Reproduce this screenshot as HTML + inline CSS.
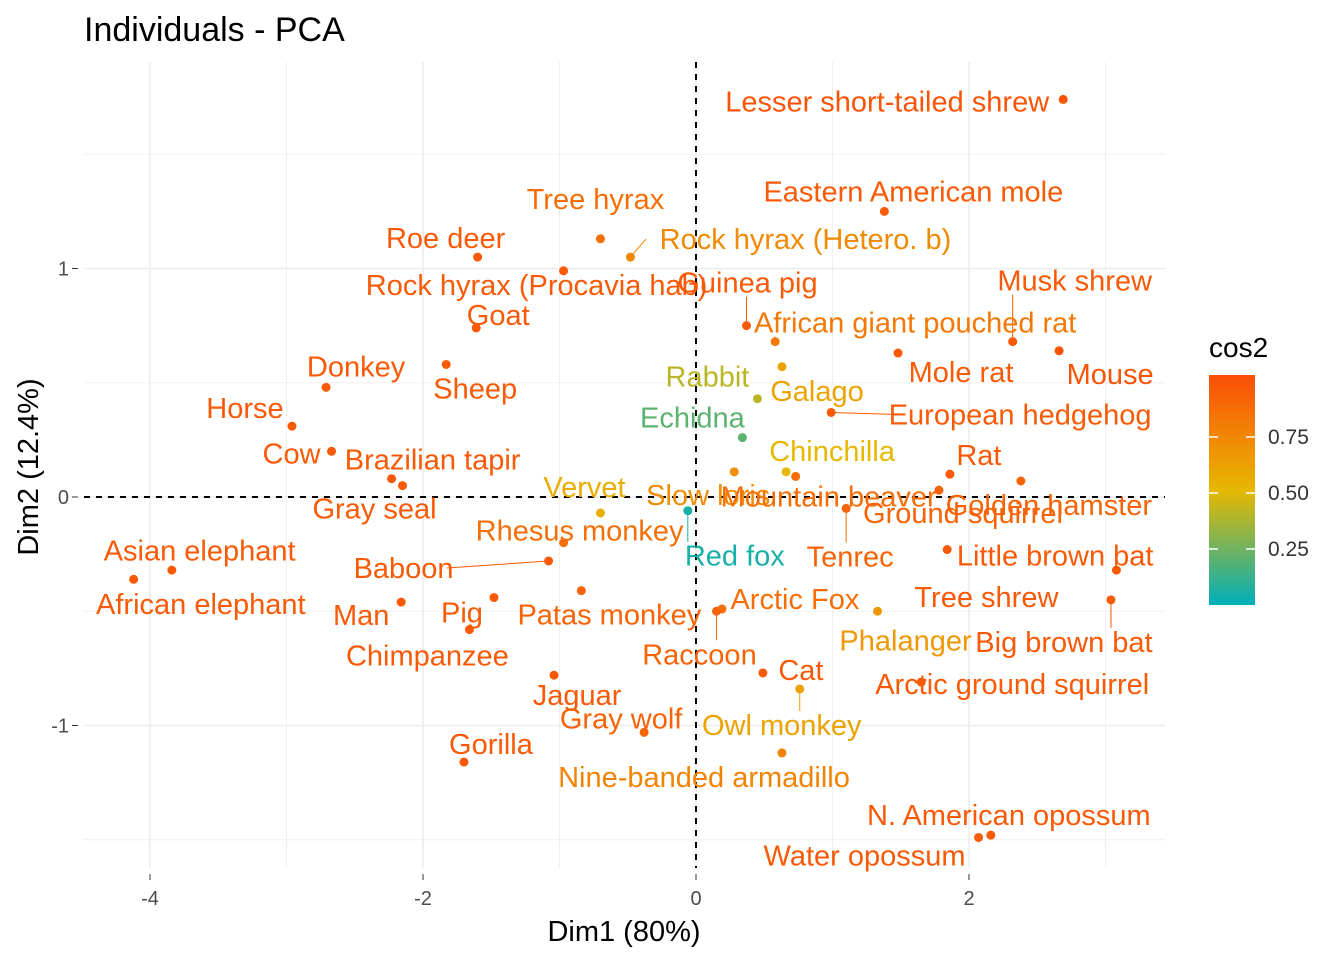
<!DOCTYPE html>
<html><head><meta charset="utf-8"><title>Individuals - PCA</title>
<style>body{margin:0;background:#fff}svg{display:block;font-family:"Liberation Sans",Arial,sans-serif}</style>
</head><body>
<svg id="chart" width="1344" height="960" xmlns="http://www.w3.org/2000/svg">
<defs><linearGradient id="lg" x1="0" y1="1" x2="0" y2="0"><stop offset="0" stop-color="#00AFBB"/><stop offset="0.5" stop-color="#E7B800"/><stop offset="1" stop-color="#FC4E07"/></linearGradient></defs>
<text x="84" y="41" font-size="34" fill="#000">Individuals - PCA</text>
<g id="grid"></g><g id="marks"></g>
<text x="624" y="941" font-size="29" text-anchor="middle">Dim1 (80%)</text>
<text transform="translate(38,467) rotate(-90)" font-size="29" text-anchor="middle">Dim2 (12.4%)</text>
<g>
<text x="1209" y="357" font-size="28">cos2</text>
<rect x="1209" y="375" width="46" height="230" fill="url(#lg)"/>
<g id="legticks"></g></g>
</svg>
<script>
const names=["Lesser short-tailed shrew","Eastern American mole","Tree hyrax","Rock hyrax (Hetero. b)","Roe deer","Rock hyrax (Procavia hab)","Guinea pig","Goat","Musk shrew","Mouse","African giant pouched rat","Mole rat","Galago","Sheep","Donkey","Rabbit","European hedgehog","Horse","Echidna","Cow","Chinchilla","Rat","Slow loris","Mountain beaver","Brazilian tapir","Gray seal","Golden hamster","Ground squirrel","Vervet","Red fox","Tenrec","Rhesus monkey","Baboon","Little brown bat","Asian elephant","African elephant","Tree shrew","Patas monkey","Pig","Man","Big brown bat","Phalanger","Arctic Fox","Raccoon","Chimpanzee","Cat","Arctic ground squirrel","Owl monkey","Jaguar","Gray wolf","Gorilla","Nine-banded armadillo","N. American opossum","Water opossum"];
const dim1=[2.69,1.38,-0.70,-0.48,-1.60,-0.97,0.37,-1.61,2.32,2.66,0.58,1.48,0.63,-1.83,-2.71,0.45,0.99,-2.96,0.34,-2.67,0.66,1.86,0.28,0.73,-2.23,-2.15,2.38,1.78,-0.70,-0.06,1.10,-0.97,-1.08,1.84,-4.12,-3.84,3.08,-0.84,-1.48,-2.16,3.04,1.33,0.19,0.15,-1.66,0.49,1.65,0.76,-1.04,-0.38,-1.70,0.63,2.16,2.07];
const dim2=[1.74,1.25,1.13,1.05,1.05,0.99,0.75,0.74,0.68,0.64,0.68,0.63,0.57,0.58,0.48,0.43,0.37,0.31,0.26,0.20,0.11,0.10,0.11,0.09,0.08,0.05,0.07,0.03,-0.07,-0.06,-0.05,-0.20,-0.28,-0.23,-0.36,-0.32,-0.32,-0.41,-0.44,-0.46,-0.45,-0.50,-0.49,-0.50,-0.58,-0.77,-0.81,-0.84,-0.78,-1.03,-1.16,-1.12,-1.48,-1.49];
const cos2=[0.97,0.95,0.85,0.72,0.95,0.95,0.95,0.95,0.95,0.97,0.8,0.95,0.6,0.95,0.95,0.4,0.95,0.95,0.2,0.95,0.5,0.95,0.7,0.85,0.95,0.95,0.9,0.9,0.55,0.05,0.9,0.85,0.95,0.95,0.95,0.95,0.95,0.9,0.95,0.95,0.95,0.65,0.85,0.9,0.95,0.95,0.95,0.6,0.95,0.9,0.95,0.75,0.95,0.95];
const xTicks=[-4,-2,0,2], yTicks=[-1,0,1], legTicks=[0.25,0.5,0.75];
// label offsets (pixels relative to point) and whether a connector segment is drawn
const lOff=[[-176,2],[29,-20],[-5,-40],[175,-18],[-32,-19],[-27,14],[1,-43],[22,-13],[62,-61],[51,23],[140,-19],[63,19],[35,24],[29,24],[30,-21],[-50,-22],[189,2],[-47,-18],[-50,-20],[-40,2],[46,-21],[29,-19],[-26,23],[33,20],[41,-19],[-28,23],[28,24],[24,23],[-16,-26],[47,45],[4,48],[16,-12],[-145,7],[108,6],[66,-29],[29,34],[-130,27],[28,24],[-32,15],[-40,13],[-47,42],[28,29],[73,-10],[-17,43],[-42,26],[38,-3],[91,2],[-18,36],[23,20],[-23,-14],[27,-18],[-78,24],[18,-20],[-114,18]];
const seg=[0,0,0,1,0,0,1,0,1,0,1,0,0,0,0,0,1,0,0,0,0,0,0,0,0,0,0,0,0,1,1,0,1,0,0,0,0,0,0,0,1,0,0,1,0,0,0,1,0,0,0,0,0,0];
const FS=29;
const X=v=>696+136.5*v, Y=v=>497-228.5*v;
const L=(a,b,t)=>Math.round(a+(b-a)*t);
function col(c){const A=[0,175,187],B=[231,184,0],C=[252,78,7];let p,q,t;if(c<0.5){p=A;q=B;t=c/0.5}else{p=B;q=C;t=(c-0.5)/0.5}return `rgb(${L(p[0],q[0],t)},${L(p[1],q[1],t)},${L(p[2],q[2],t)})`}
const NS="http://www.w3.org/2000/svg";
function mk(tag,at,parent){const e=document.createElementNS(NS,tag);for(const k in at)e.setAttribute(k,at[k]);parent.appendChild(e);return e}
const grid=document.getElementById('grid'), marks=document.getElementById('marks');
[-3,-1,1,3].forEach(v=>{const e=mk('line',{x1:X(v),x2:X(v),y1:62,y2:868,stroke:'#f0f0f0','stroke-width':1},grid);

});
[1.5,0.5,-0.5,-1.5].forEach(v=>{const e=mk('line',{x1:84,x2:1165,y1:Y(v),y2:Y(v),stroke:'#f0f0f0','stroke-width':1},grid);

});
xTicks.forEach(v=>{const e=mk('line',{x1:X(v),x2:X(v),y1:62,y2:868,stroke:'#ebebeb','stroke-width':1.5},grid);


const t=mk('text',{x:X(v),y:905,'font-size':20,fill:'#4d4d4d','text-anchor':'middle'},grid);t.textContent=v;

});
yTicks.forEach(v=>{const e=mk('line',{x1:84,x2:1165,y1:Y(v),y2:Y(v),stroke:'#ebebeb','stroke-width':1.5},grid);


const k=mk('line',{x1:72,x2:78,y1:Y(v),y2:Y(v),stroke:'#333','stroke-width':1},grid);


const t=mk('text',{x:69,y:Y(v)+7,'font-size':20,fill:'#4d4d4d','text-anchor':'end'},grid);t.textContent=v;

});
xTicks.forEach(v=>{const k=mk('line',{x1:X(v),x2:X(v),y1:874,y2:880,stroke:'#333'},grid);

});
const h=mk('line',{x1:84,x2:1165,y1:Y(0),y2:Y(0),stroke:'#000','stroke-width':2,'stroke-dasharray':'6,6'},grid);


const vl=mk('line',{x1:X(0),x2:X(0),y1:62,y2:868,stroke:'#000','stroke-width':2,'stroke-dasharray':'6,6'},grid);


names.forEach((n,i)=>{const px=X(dim1[i]),py=Y(dim2[i]),c=col(cos2[i]);const lx=px+lOff[i][0],ly=py+lOff[i][1];
const w=n.length*FS*0.5;
if(seg[i]){let ex,ey;
if(px<lx-w/2){ex=lx-w/2;ey=ly;}else if(px>lx+w/2){ex=lx+w/2;ey=ly;}else{ex=px;ey=ly+(ly>py?-14:14);}
const s=mk('line',{x1:px,y1:py,x2:ex,y2:ey,stroke:c,'stroke-width':1},marks);

}
const p=mk('circle',{cx:px,cy:py,r:4.5,fill:c},marks);


const t=mk('text',{x:lx,y:ly+10,'font-size':FS,fill:c,'text-anchor':'middle'},marks);t.textContent=n;

});
const lt=document.getElementById('legticks');
legTicks.forEach(v=>{const y=605-224*v;
[1209,1246].forEach(x0=>{const k=mk('line',{x1:x0,x2:x0+9,y1:y,y2:y,stroke:'#fff','stroke-width':1.5},lt);

});
const t=mk('text',{x:1268,y:y+7,'font-size':21,fill:'#333'},lt);t.textContent=v.toFixed(2);

});
</script>
</body></html>
